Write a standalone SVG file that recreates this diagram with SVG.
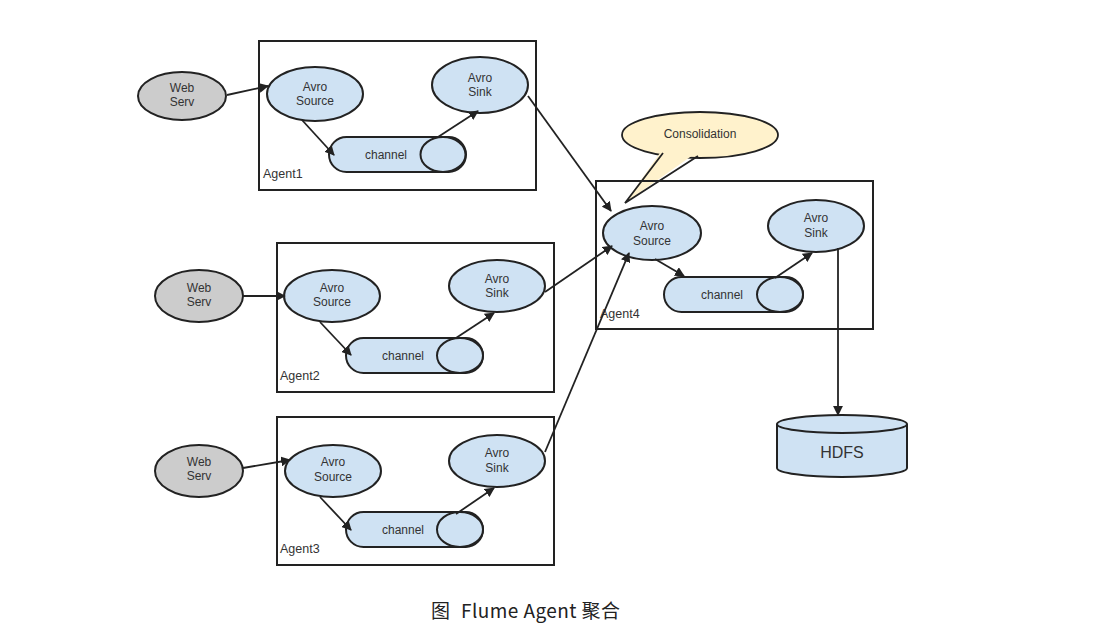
<svg xmlns="http://www.w3.org/2000/svg" width="1106" height="633" viewBox="0 0 1106 633">
<style>
.box{fill:none;stroke:#222;stroke-width:2}
.web{fill:#cccccc;stroke:#222;stroke-width:2}
.n{fill:#cfe2f3;stroke:#222;stroke-width:2}
.t{font-family:"Liberation Sans",Arial,sans-serif;font-size:12px;fill:#333;text-anchor:middle}
.lbl{font-family:"Liberation Sans",Arial,sans-serif;font-size:12.5px;fill:#333}
.c{fill:none;stroke:#222;stroke-width:1.8}
</style>
<defs>
<marker id="ah" viewBox="0 0 10 10" refX="9" refY="5" markerWidth="5.5" markerHeight="5.5" orient="auto" markerUnits="strokeWidth">
<path d="M0,0 L10,5 L0,10 z" fill="#222"/>
</marker>
</defs>
<rect width="1106" height="633" fill="#fff"/>

<g id="consolidation">
<ellipse cx="700" cy="135" rx="78" ry="23" fill="#fff2cc" stroke="#222" stroke-width="1.8"/>
<path d="M662,150 L625,203 L700,150 Z" fill="#fff2cc" stroke="none"/>
<path d="M663,153 L625,203 L698,156" fill="none" stroke="#222" stroke-width="1.8" stroke-linejoin="miter"/>
<text class="t" x="700" y="138">Consolidation</text>
</g>

<g id="agent1">
<rect class="box" x="259" y="41" width="277" height="149"/>
<text class="lbl" x="263" y="178">Agent1</text>
</g>
<g id="web1"><ellipse class="web" cx="182" cy="96" rx="44" ry="24"/><text class="t" x="182" y="92">Web</text><text class="t" x="182" y="106">Serv</text></g>
<g id="source1"><ellipse class="n" cx="315" cy="94" rx="48" ry="27"/><text class="t" x="315" y="91">Avro</text><text class="t" x="315" y="105">Source</text></g>
<g id="sink1"><ellipse class="n" cx="480" cy="85" rx="48" ry="28"/><text class="t" x="480" y="82">Avro</text><text class="t" x="480" y="96">Sink</text></g>
<g id="channel1"><rect class="n" x="329" y="137" width="137" height="35" rx="17.5"/><ellipse class="n" cx="443" cy="154.5" rx="22.5" ry="17.5"/><text class="t" x="386" y="159">channel</text></g>

<g id="agent2">
<rect class="box" x="277" y="243" width="277" height="149"/>
<text class="lbl" x="280" y="380">Agent2</text>
</g>
<g id="web2"><ellipse class="web" cx="199" cy="296" rx="44" ry="26"/><text class="t" x="199" y="292">Web</text><text class="t" x="199" y="306">Serv</text></g>
<g id="source2"><ellipse class="n" cx="332" cy="296" rx="48" ry="26"/><text class="t" x="332" y="292">Avro</text><text class="t" x="332" y="306">Source</text></g>
<g id="sink2"><ellipse class="n" cx="497" cy="286" rx="48" ry="26"/><text class="t" x="497" y="283">Avro</text><text class="t" x="497" y="297">Sink</text></g>
<g id="channel2"><rect class="n" x="346" y="338" width="137" height="35" rx="17.5"/><ellipse class="n" cx="460" cy="355.5" rx="23" ry="17.5"/><text class="t" x="403" y="360">channel</text></g>

<g id="agent3">
<rect class="box" x="277" y="417" width="277" height="148"/>
<text class="lbl" x="280" y="553">Agent3</text>
</g>
<g id="web3"><ellipse class="web" cx="199" cy="471" rx="44" ry="26"/><text class="t" x="199" y="466">Web</text><text class="t" x="199" y="480">Serv</text></g>
<g id="source3"><ellipse class="n" cx="333" cy="471" rx="48" ry="26"/><text class="t" x="333" y="466">Avro</text><text class="t" x="333" y="481">Source</text></g>
<g id="sink3"><ellipse class="n" cx="497" cy="461" rx="48" ry="26"/><text class="t" x="497" y="457">Avro</text><text class="t" x="497" y="472">Sink</text></g>
<g id="channel3"><rect class="n" x="346" y="512" width="137" height="35" rx="17.5"/><ellipse class="n" cx="460" cy="529.5" rx="23" ry="17.5"/><text class="t" x="403" y="534">channel</text></g>

<g id="agent4">
<rect class="box" x="596" y="181" width="277" height="148"/>
<text class="lbl" x="600" y="318">Agent4</text>
</g>
<g id="source4"><ellipse class="n" cx="652" cy="233" rx="49" ry="27"/><text class="t" x="652" y="230">Avro</text><text class="t" x="652" y="245">Source</text></g>
<g id="sink4"><ellipse class="n" cx="816" cy="226" rx="48" ry="26"/><text class="t" x="816" y="222">Avro</text><text class="t" x="816" y="237">Sink</text></g>
<g id="channel4"><rect class="n" x="664" y="277" width="139" height="35" rx="17.5"/><ellipse class="n" cx="780" cy="294.5" rx="23" ry="17.5"/><text class="t" x="722" y="299">channel</text></g>

<g id="hdfs">
<path d="M777,424 L777,468 A65,9 0 0 0 907,468 L907,424" fill="#cfe2f3" stroke="#222" stroke-width="2"/>
<ellipse cx="842" cy="424" rx="65" ry="9" fill="#cfe2f3" stroke="#222" stroke-width="2"/>
<text x="842" y="458" font-family="'Liberation Sans',Arial,sans-serif" font-size="16" fill="#333" text-anchor="middle">HDFS</text>
</g>

<g id="connectors">
<line class="c" x1="227" y1="95" x2="268" y2="86" marker-end="url(#ah)"/>
<line class="c" x1="302" y1="120" x2="334" y2="155" marker-end="url(#ah)"/>
<line class="c" x1="438" y1="137" x2="478" y2="111" marker-end="url(#ah)"/>
<line class="c" x1="243" y1="296" x2="285" y2="296" marker-end="url(#ah)"/>
<line class="c" x1="320" y1="322" x2="351" y2="355" marker-end="url(#ah)"/>
<line class="c" x1="456" y1="338" x2="494" y2="313" marker-end="url(#ah)"/>
<line class="c" x1="243" y1="468" x2="290" y2="460" marker-end="url(#ah)"/>
<line class="c" x1="320" y1="497" x2="351" y2="530" marker-end="url(#ah)"/>
<line class="c" x1="456" y1="514" x2="494" y2="488" marker-end="url(#ah)"/>
<line class="c" x1="528" y1="96" x2="611" y2="211" marker-end="url(#ah)"/>
<line class="c" x1="545" y1="292" x2="612" y2="246" marker-end="url(#ah)"/>
<line class="c" x1="545" y1="452" x2="629" y2="253" marker-end="url(#ah)"/>
<line class="c" x1="655" y1="259" x2="684" y2="276" marker-end="url(#ah)"/>
<line class="c" x1="775" y1="278" x2="812" y2="253" marker-end="url(#ah)"/>
<line class="c" x1="838" y1="248" x2="838" y2="415" marker-end="url(#ah)"/>
</g>

<g id="caption" font-family="'Noto Sans CJK SC','Noto Sans',sans-serif" font-size="19" fill="#222">
<text x="431" y="618">图</text>
<text x="461" y="618" textLength="159" lengthAdjust="spacing">Flume Agent 聚合</text>
</g>
</svg>
